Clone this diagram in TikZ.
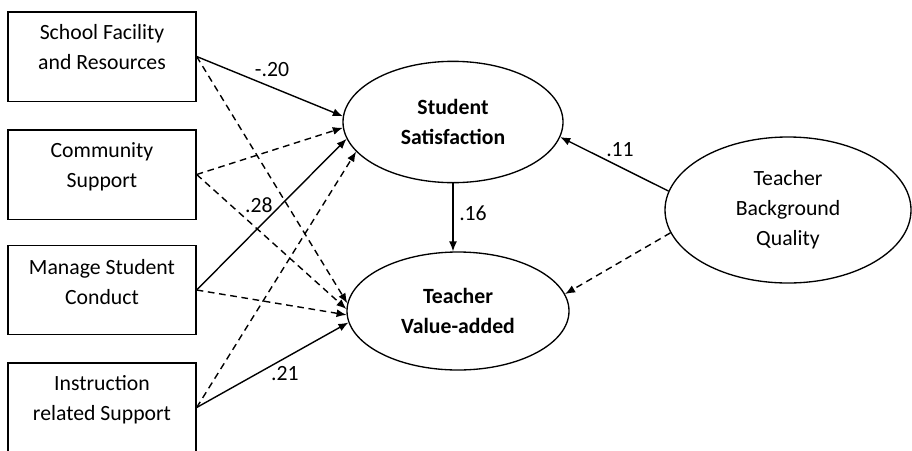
\documentclass[tikz,border=0pt]{standalone}
\usepackage{fontspec}
\setmainfont{Carlito}
\usetikzlibrary{arrows.meta,shapes.geometric}
\newcommand{\diagfont}{\fontsize{16.3}{22.5}\selectfont}
\begin{document}
\begin{tikzpicture}[x=0.75pt,y=-0.75pt,>={Latex[length=7.5pt,width=6pt]},
  every node/.style={font=\diagfont},
  box/.style={draw,line width=1pt,minimum width=141pt,minimum height=67pt},
  boxtext/.style={align=center,inner sep=0pt},
  latent/.style={draw,ellipse,line width=1pt,align=center,inner sep=0pt},
  fixed/.style={->,line width=1.05pt},
  free/.style={->,line width=1.05pt,dash pattern=on 5pt off 3.5pt},
  coef/.style={inner sep=1pt}]
\useasboundingbox (0,0) rectangle (912,450);
% school-level predictors
\node[box] (fac) at (102,56.5) {};
\node[boxtext] (factxt) at (102,47.5) {School Facility\\and Resources};
\node[box] (com) at (102,174.5) {};
\node[boxtext] (comtxt) at (102,167) {Community\\Support};
\node[box] (man) at (102,290) {};
\node[boxtext] (mantxt) at (102,282.5) {Manage Student\\Conduct};
\node[box] (ins) at (102,407.5) {};
\node[boxtext] (instxt) at (102,400) {Instruction\\related Support};
% outcomes
\node[latent,minimum width=165pt,minimum height=91pt,font=\diagfont\bfseries] (ss) at (453,122) {Student\\Satisfaction};
\node[latent,minimum width=166.5pt,minimum height=88.5pt,font=\diagfont\bfseries] (tva) at (458,311) {Teacher\\Value-added};
\node[latent,minimum width=184.5pt,minimum height=109.5pt] (tbq) at (788,210) {Teacher\\Background\\Quality};
% paths
\draw[fixed] (fac.east) -- (ss.177);
\draw[free] (fac.east) -- (tva.176);
\draw[free] (com.east) -- (ss.183);
\draw[free] (com.east) -- (tva.179);
\draw[fixed] (man.east) -- (ss.189);
\draw[free] (man.east) -- (tva.182);
\draw[free] (ins.east) -- (ss.197);
\draw[fixed] (ins.east) -- (tva.186);
\draw[fixed] (ss.south) -- (ss.south |- tva.north);
\draw[fixed] (tbq.171) -- (ss.-8);
\draw[free] (tbq.191) -- (tva.9);
% coefficients
\node[coef] (c1) at (272,70) {-.20};
\node[coef] (c2) at (259,205) {.28};
\node[coef] (c3) at (285,374) {.21};
\node[coef] (c4) at (473,213) {.16};
\node[coef] (c5) at (620,150) {.11};
\end{tikzpicture}
\end{document}
